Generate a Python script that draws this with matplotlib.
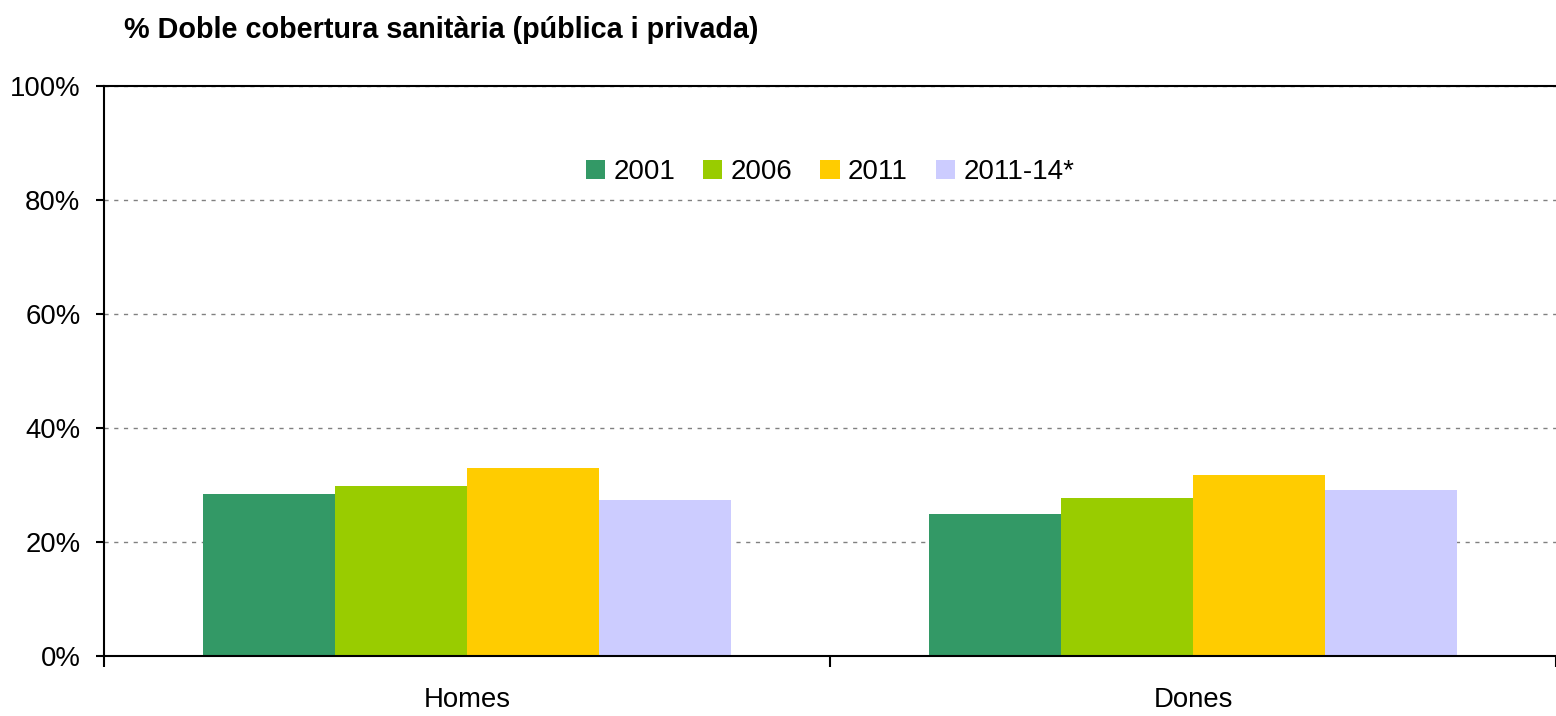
import matplotlib
matplotlib.use("Agg")
import matplotlib.pyplot as plt
import numpy as np

# data
categories = ["Homes", "Dones"]
years = ["2001", "2006", "2011", "2011-14*"]
v2001 = [28.5, 25.0]
v2006 = [29.9, 27.8]
v2011 = [32.9, 31.8]
v2011_14 = [27.4, 29.2]
series = [v2001, v2006, v2011, v2011_14]
colors = ["#339966", "#99CC00", "#FFCC00", "#CCCCFF"]

plt.rcParams['font.family'] = ['Liberation Sans', 'DejaVu Sans']

fig = plt.figure(figsize=(15.56, 7.16), dpi=100)
ax = fig.add_axes([104/1556, 1-656/716, 1-104/1556, (656-86)/716])

x = np.arange(len(categories))
w = 0.182
for i, vals in enumerate(series):
    ax.bar(x + (i - 1.5) * w, vals, w, color=colors[i], label=years[i], zorder=3)

ax.set_xlim(-0.5, 1.5)
ax.set_ylim(0, 100)
ax.set_yticks([0, 20, 40, 60, 80, 100])
ax.set_yticklabels([f"{t}%" for t in [0, 20, 40, 60, 80, 100]])
ax.set_xticks(x)
ax.set_xticklabels(categories)
ax.set_xticks([-0.5, 0.5, 1.5], minor=True)
ax.tick_params(axis='x', which='major', length=0, pad=22, labelsize=19.8)
ax.tick_params(axis='x', which='minor', length=8, width=1.5, direction='out')
ax.tick_params(axis='y', length=6, width=1.5, pad=11, labelsize=19.8)

ax.grid(axis='y', color='#808080', linestyle=(0, (3, 4)), linewidth=1, zorder=0)
ax.spines['right'].set_visible(False)
for s in ['left', 'bottom', 'top']:
    ax.spines[s].set_linewidth(1.5)
    ax.spines[s].set_zorder(4)

ax.legend(loc='upper center', bbox_to_anchor=(0.5, 0.915), ncol=4, frameon=False,
          fontsize=20, handlelength=0.7, handleheight=0.7, handletextpad=0.3,
          columnspacing=1.0)

fig.text(124/1556, 1-30/716, "% Doble cobertura sanitària (pública i privada)",
         fontsize=20.7, fontweight='bold', va='center', ha='left')

fig.savefig("out.png", dpi=100)
